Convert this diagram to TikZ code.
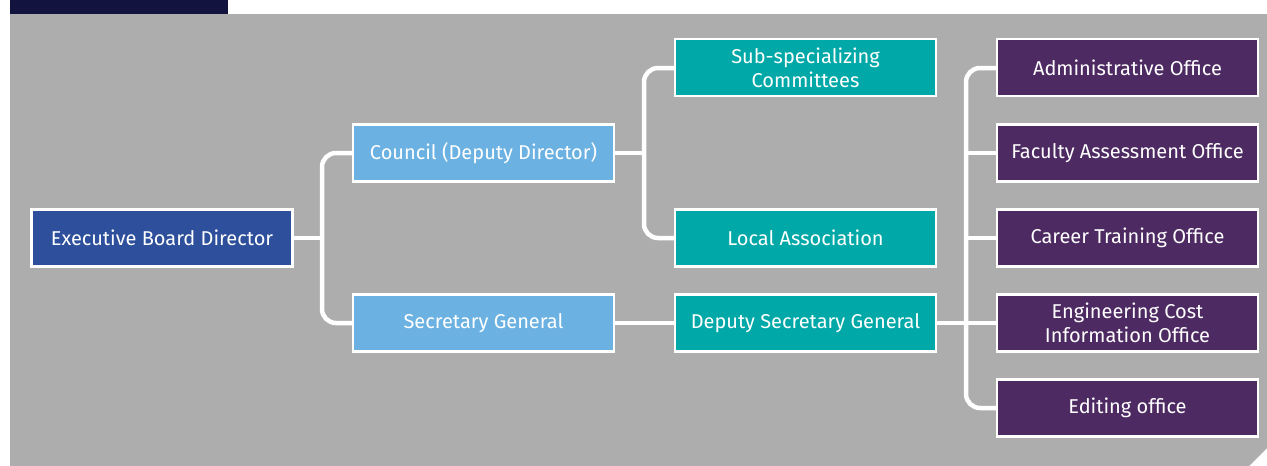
\documentclass[tikz,border=0pt]{standalone}
\usepackage{fontspec}
\setmainfont{Fira Sans}
\definecolor{bggray}{HTML}{ADADAD}
\definecolor{tabnavy}{HTML}{13133F}
\definecolor{execblue}{HTML}{2D4F9C}
\definecolor{lightblue}{HTML}{6BB1E1}
\definecolor{tealc}{HTML}{00A8A8}
\definecolor{purplec}{HTML}{4E2A63}
\tikzset{
  box/.style={draw=white, line width=2.5pt, minimum width=261pt, minimum height=57pt,
    inner sep=0pt, text=white, align=center, font=\fontsize{20}{24}\selectfont},
  execbox/.style={box, fill=execblue},
  lbbox/.style={box, fill=lightblue},
  tealbox/.style={box, fill=tealc},
  purpbox/.style={box, fill=purplec},
  conn/.style={draw=white, line width=4.5pt, rounded corners=14pt},
}
\begin{document}
\begin{tikzpicture}[x=1pt,y=-1pt]
\useasboundingbox (0,0) rectangle (1267,466);
\fill[white] (0,0) rectangle (1267,466);
\fill[tabnavy] (10,0) rectangle (228,14);
\fill[bggray] (10,14) -- (1267,14) -- (1267,448) -- (1249,466) -- (10,466) -- cycle;

\coordinate (t1) at (322,238);
\coordinate (t2) at (644,153);
\coordinate (t3) at (966,323);

% connectors
\draw[conn] (352,153) -- (322,153) -- (322,323) -- (352,323);
\draw[conn] (293,238) -- (t1);
\draw[conn] (674,68) -- (644,68) -- (644,238) -- (674,238);
\draw[conn] (615,153) -- (t2);
\draw[conn] (615,323) -- (674,323);
\draw[conn] (996,68) -- (966,68) -- (966,408) -- (996,408);
\draw[conn] (937,323) -- (t3);
\draw[conn] (t3 |- 0,153) -- (996,153);
\draw[conn] (t3 |- 0,238) -- (996,238);
\draw[conn] (t3) -- (996,323);

\node[execbox] (exec) at (162,238) {Executive Board Director};
\node[lbbox] (council) at (483.5,153) {Council (Deputy Director)};
\node[lbbox] (sg) at (483.5,323) {Secretary General};
\node[tealbox] (sub) at (805.5,67.5) {Sub-specializing\\Committees};
\node[tealbox] (local) at (805.5,238) {Local Association};
\node[tealbox] (dsg) at (805.5,323) {Deputy Secretary General};
\node[purpbox] (admin) at (1127.5,67.5) {Administrative Office};
\node[purpbox] (fac) at (1127.5,153) {Faculty Assessment Office};
\node[purpbox] (career) at (1127.5,238) {Career Training Office};
\node[purpbox] (eng) at (1127.5,323) {Engineering Cost\\Information Office};
\node[purpbox] (edit) at (1127.5,408) {Editing office};
\end{tikzpicture}
\end{document}
